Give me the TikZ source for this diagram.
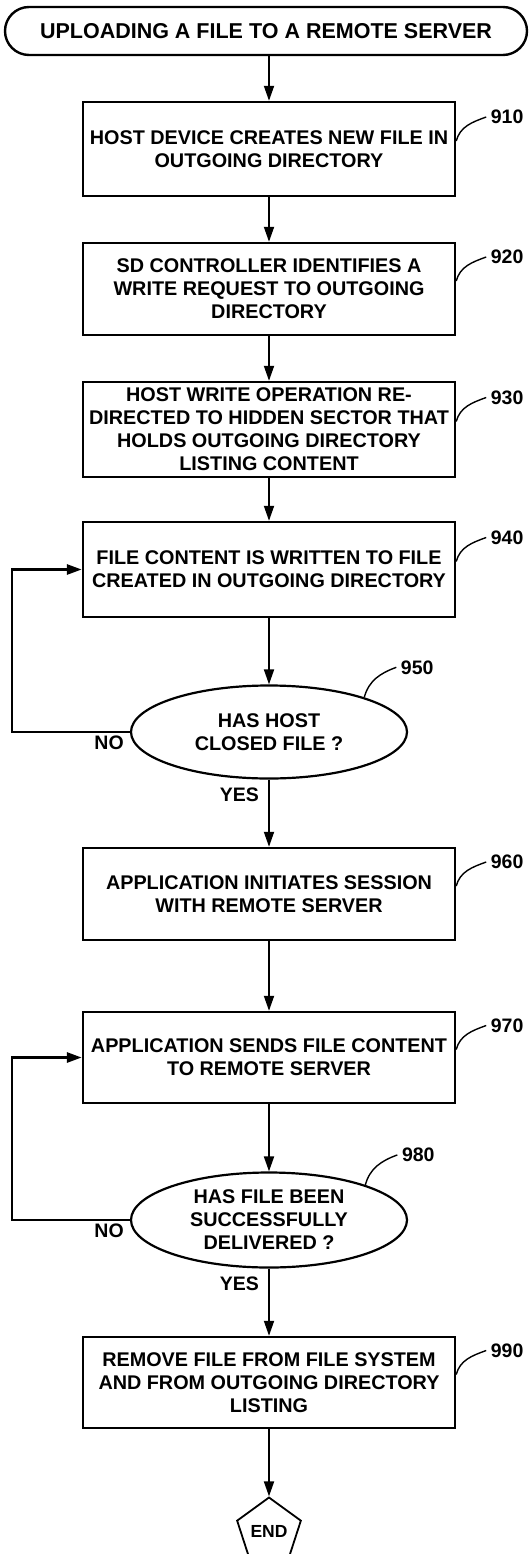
\documentclass[tikz,border=0pt]{standalone}
\usepackage{fontspec}
\setmainfont{Liberation Sans}
\usetikzlibrary{shapes.geometric,shapes.misc,arrows.meta}

\begin{document}
\begin{tikzpicture}[x=1pt,y=1pt]
  \tikzstyle{every node}+=[font=\bfseries\fontsize{19.8}{23}\selectfont]
  \tikzstyle{stepbox}=[draw,line width=2.4pt,minimum width=372pt,align=center,inner sep=0pt]
  \tikzstyle{query}=[draw,ellipse,line width=2.2pt,minimum width=276pt,align=center,inner sep=0pt]
  \tikzstyle{arr}=[line width=1.8pt,-{Triangle[length=15pt,width=10pt]}]
  \tikzstyle{back}=[line width=2.8pt,-{Triangle[length=15pt,width=10pt]}]
  \tikzstyle{lead}=[line width=1.4pt]
  \tikzstyle{ref}=[font=\bfseries\fontsize{19.5}{21}\selectfont,inner sep=4pt]
  \useasboundingbox (0,0) rectangle (531,-1554);
  \node[draw,rounded rectangle,line width=2.4pt,minimum width=522pt,minimum height=48pt,inner sep=0pt,font=\bfseries\fontsize{21.5}{24}\selectfont] (start) at (266,-31) {UPLOADING A FILE TO A REMOTE SERVER};
  \node[stepbox,minimum height=94pt] (s910) at (269,-149) {HOST DEVICE CREATES NEW FILE IN\\OUTGOING DIRECTORY};
  \node[stepbox,minimum height=92pt] (s920) at (269,-289) {SD CONTROLLER IDENTIFIES A\\WRITE REQUEST TO OUTGOING\\DIRECTORY};
  \node[stepbox,minimum height=95pt] (s930) at (269,-429.5) {HOST WRITE OPERATION RE-\\DIRECTED TO HIDDEN SECTOR THAT\\HOLDS OUTGOING DIRECTORY\\LISTING CONTENT};
  \node[stepbox,minimum height=95pt] (s940) at (269,-569.5) {FILE CONTENT IS WRITTEN TO FILE\\CREATED IN OUTGOING DIRECTORY};
  \node[query,minimum height=93pt] (q950) at (269,-732) {HAS HOST\\CLOSED FILE ?};
  \node[stepbox,minimum height=92pt] (s960) at (269,-894) {APPLICATION INITIATES SESSION\\WITH REMOTE SERVER};
  \node[stepbox,minimum height=91pt] (s970) at (269,-1057.5) {APPLICATION SENDS FILE CONTENT\\TO REMOTE SERVER};
  \node[query,minimum height=95pt] (q980) at (269,-1220) {HAS FILE BEEN\\SUCCESSFULLY\\DELIVERED ?};
  \node[stepbox,minimum height=91pt] (s990) at (269,-1382.5) {REMOVE FILE FROM FILE SYSTEM\\AND FROM OUTGOING DIRECTORY\\LISTING};
  \node[draw,regular polygon,regular polygon sides=5,minimum size=67pt,inner sep=0pt,line width=1.8pt,font=\bfseries\fontsize{17.5}{19}\selectfont] (end) at (269,-1531) {END};
  \draw[arr] (start.south -| s910) -- (s910);
  \draw[arr] (s910) -- (s920);
  \draw[arr] (s920) -- (s930);
  \draw[arr] (s930) -- (s940);
  \draw[arr] (s940) -- (q950);
  \draw[arr] (q950) -- (s960);
  \draw[arr] (s960) -- (s970);
  \draw[arr] (s970) -- (q980);
  \draw[arr] (q980) -- (s990);
  \draw[arr] (s990) -- (end);
  \draw[back] (q950.west) -- ++(-118,0) |- (s940.west);
  \draw[back] (q980.west) -- ++(-118,0) |- (s970.west);
  \node[ref,anchor=north east] at ([xshift=-2pt]q950.west) {NO};
  \node[ref,anchor=north east] at ([xshift=-2pt]q980.west) {NO};
  \node[ref,anchor=north east] at ([xshift=-6pt,yshift=-4pt]q950.south) {YES};
  \node[ref,anchor=north east] at ([xshift=-6pt,yshift=-4pt]q980.south) {YES};
  \draw[lead] ([yshift=8pt]s910.east) to[out=75,in=200] ++(30,24) node[ref,right] {910};
  \draw[lead] ([yshift=8pt]s920.east) to[out=75,in=200] ++(30,24) node[ref,right] {920};
  \draw[lead] ([yshift=8pt]s930.east) to[out=75,in=200] ++(30,24) node[ref,right] {930};
  \draw[lead] ([yshift=8pt]s940.east) to[out=75,in=200] ++(30,24) node[ref,right] {940};
  \draw[lead] ([yshift=8pt]s960.east) to[out=75,in=200] ++(30,24) node[ref,right] {960};
  \draw[lead] ([yshift=8pt]s970.east) to[out=75,in=200] ++(30,24) node[ref,right] {970};
  \draw[lead] ([yshift=8pt]s990.east) to[out=75,in=200] ++(30,24) node[ref,right] {990};
  \draw[lead] (q950.20) to[out=75,in=200] ++(32,30) node[ref,right] {950};
  \draw[lead] (q980.20) to[out=75,in=200] ++(32,30) node[ref,right] {980};
\end{tikzpicture}
\end{document}
